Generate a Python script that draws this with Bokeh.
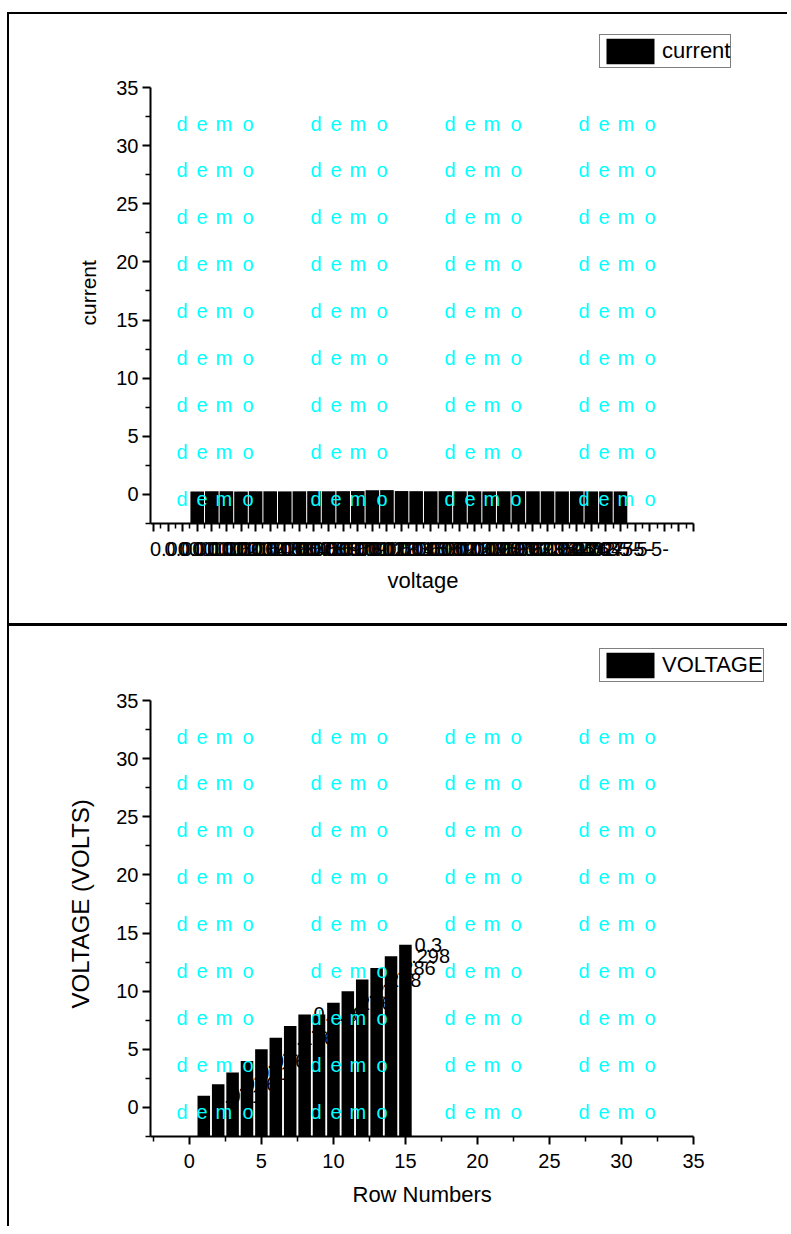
from bokeh.plotting import figure
from bokeh.models import FixedTicker, Legend, LegendItem, Spacer, Range1d, Title
from bokeh.layouts import column, row
from bokeh.core.properties import value
from bokeh.embed import file_html
from bokeh.resources import INLINE

# ---------------- data ----------------
voltage_labels = [
    "0.0000101", "0.0000302", "0.0000603", "0.0001004", "0.0001505",
    "0.0002106", "0.0002807", "0.0003608", "0.0004509", "0.0005510",
    "0.0006611", "0.0007812", "0.0009113", "0.0010514", "0.0012015",
    "0.0013616", "0.0015317", "0.0017118", "0.0019019", "0.0021020",
    "0.0023121", "0.0025322", "0.0027623", "0.0030024", "0.0032525",
    "0.0035126", "0.0037827", "0.00402-5-", "0.00435-5-", "0.00475-5-",
]
current = [0.26, 0.27, 0.27, 0.26, 0.27, 0.27, 0.26, 0.27, 0.28, 0.27,
           0.28, 0.29, 0.36, 0.37, 0.29, 0.28, 0.27, 0.28, 0.27, 0.27,
           0.26, 0.27, 0.28, 0.27, 0.27, 0.26, 0.27, 0.26, 0.26, 0.26]
category_index = list(range(1, len(current) + 1))

row_numbers = list(range(1, 16))
voltage_rows = [1, 2, 3, 4, 5, 6, 7, 8, 8, 9, 10, 11, 12, 13, 14]
point_labels = ["0.001", "0.026", "0.051", "0.076", "0.1", "0.126", "0.15",
                "0.176", "0.2", "0.226", "0.25", "0.278", "0.286", "0.298", "0.3"]

y_major = [0, 5, 10, 15, 20, 25, 30, 35]
y_minor = [-2.5, 2.5, 7.5, 12.5, 17.5, 22.5, 27.5, 32.5]
x_major_bottom = [0, 5, 10, 15, 20, 25, 30, 35]
x_minor_bottom = [-2.5, 2.5, 7.5, 12.5, 17.5, 22.5, 27.5, 32.5]

FONT = "Liberation Sans"
Y_MIN, Y_MAX = -2.5, 35
TOP_X = (-2.2, 35)
BOT_X = (-2.7, 35)
AXIS_W = 543      # pixel length of the drawn x axis
AXIS_H = 436      # pixel length of the drawn y axis
FRAME_W = 625     # plot frame enlarged so the legend can sit above/right of the axes
FRAME_H = 493


def ext(lo, hi, axis_px, frame_px):
    return lo + frame_px * (hi - lo) / axis_px


def style(p, xb, xtick_standoff):
    p.xgrid.visible = False
    p.ygrid.visible = False
    p.outline_line_color = None
    p.background_fill_color = "white"
    p.border_fill_color = "white"
    for ax in (p.xaxis[0], p.yaxis[0]):
        ax.axis_line_width = 2
        ax.axis_line_color = "black"
        ax.major_tick_line_width = 2
        ax.minor_tick_line_width = 1.5
        ax.major_tick_line_color = "black"
        ax.minor_tick_line_color = "black"
        ax.major_tick_in = 0
        ax.minor_tick_in = 0
        ax.major_tick_out = 8
        ax.minor_tick_out = 5
        ax.major_label_text_font = FONT
        ax.major_label_text_font_size = "20px"
        ax.major_label_text_color = "black"
    p.yaxis[0].ticker = FixedTicker(ticks=y_major, minor_ticks=y_minor)
    p.yaxis[0].bounds = (Y_MIN, Y_MAX)
    p.xaxis[0].bounds = xb
    p.yaxis[0].major_label_standoff = 4
    p.xaxis[0].major_label_standoff = xtick_standoff


def titles(p, xlabel, x_offset, x_standoff, ylabel, y_offset, y_standoff, y_size):
    p.add_layout(Title(text=xlabel, align="left", offset=x_offset, standoff=x_standoff,
                       vertical_align="top", text_font=FONT, text_font_size="22px",
                       text_font_style="normal", text_color="black"), "below")
    p.add_layout(Title(text=ylabel, align="left", offset=y_offset, standoff=y_standoff,
                       text_font=FONT, text_font_size=y_size,
                       text_font_style="normal", text_color="black"), "left")


def watermark(p, xr):
    cols_px = [26, 160, 294, 428]
    letter_dx = [0, 20, 39, 66]
    rows_px = [36, 82, 129, 176, 223, 270, 317, 364, 411]
    xs, ys, ts = [], [], []
    for r in rows_px:
        for c in cols_px:
            for ch, dx in zip("demo", letter_dx):
                xs.append(xr[0] + (c + dx) * (xr[1] - xr[0]) / AXIS_W)
                ys.append(Y_MAX - r * (Y_MAX - Y_MIN) / AXIS_H)
                ts.append(ch)
    p.text(x=xs, y=ys, text=ts, text_color="#00FFFF", text_font=value(FONT),
           text_font_size="20px", text_baseline="middle", text_align="left")


def legend(p, r, label, vy):
    lg = Legend(items=[LegendItem(label=label, renderers=[r])], location=(449, vy),
                border_line_color="black", border_line_width=1,
                padding=0, spacing=0, margin=0, glyph_width=60, glyph_height=32,
                label_standoff=2, label_text_font=FONT, label_text_font_size="22px",
                label_text_color="black", label_height=32, background_fill_alpha=1)
    p.add_layout(lg)


# ---------------- top panel ----------------
p1 = figure(width=780, height=611, output_backend="svg", toolbar_location=None,
            x_range=Range1d(TOP_X[0], ext(TOP_X[0], TOP_X[1], AXIS_W, FRAME_W)),
            y_range=Range1d(Y_MIN, ext(Y_MIN, Y_MAX, AXIS_H, FRAME_H)),
            min_border_left=141, min_border_right=14, min_border_top=16,
            min_border_bottom=102)
style(p1, TOP_X, 10)
p1.xaxis[0].ticker = FixedTicker(ticks=list(range(-2, 36)),
                                 minor_ticks=[i + 0.5 for i in range(-3, 35)])
overrides = {i: "" for i in range(-2, 36)}
for i, lab in zip(category_index, voltage_labels):
    overrides[i] = lab
p1.xaxis[0].major_label_overrides = overrides
r1 = p1.vbar(x=category_index, top=current, bottom=Y_MIN, width=0.93,
             fill_color="black", line_color=None)
watermark(p1, TOP_X)
legend(p1, r1, "current", 455)
titles(p1, "voltage", 237, 19, "current", 198, 28, "21px")
p1.styles = {"border-top": "2px solid black", "border-left": "2px solid black"}

# ---------------- bottom panel ----------------
p2 = figure(width=780, height=603, output_backend="svg", toolbar_location=None,
            x_range=Range1d(BOT_X[0], ext(BOT_X[0], BOT_X[1], AXIS_W, FRAME_W)),
            y_range=Range1d(Y_MIN, ext(Y_MIN, Y_MAX, AXIS_H, FRAME_H)),
            min_border_left=141, min_border_right=14, min_border_top=17,
            min_border_bottom=93)
style(p2, BOT_X, 9)
p2.xaxis[0].ticker = FixedTicker(ticks=x_major_bottom, minor_ticks=x_minor_bottom)
px_per_unit = AXIS_W / (BOT_X[1] - BOT_X[0])
label_dx = 9 / px_per_unit
p2.text(x=[r + label_dx for r in row_numbers], y=voltage_rows, text=point_labels,
        text_font=value(FONT), text_font_size="20px", text_color="black",
        text_baseline="middle", text_align="left")
r2 = p2.vbar(x=row_numbers, top=voltage_rows, bottom=Y_MIN, width=0.87,
             fill_color="black", line_color=None)
watermark(p2, BOT_X)
legend(p2, r2, "VOLTAGE", 454)
titles(p2, "Row Numbers", 202, 22, "VOLTAGE (VOLTS)", 128, 40, "24px")
p2.styles = {"border-top": "3px solid black", "border-left": "2px solid black"}

layout = row(Spacer(width=7, height=10),
             column(Spacer(height=12, width=780), p1, p2))
open("out.html", "w").write(file_html(layout, INLINE))
